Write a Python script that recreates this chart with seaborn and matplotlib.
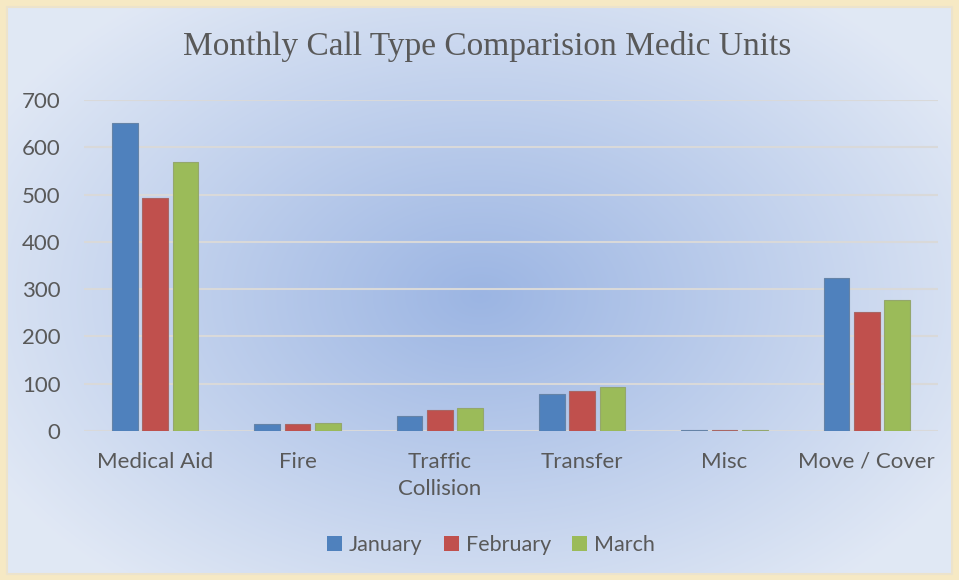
import numpy as np
import pandas as pd
import matplotlib
matplotlib.use("Agg")
import matplotlib.pyplot as plt
import seaborn as sns
from matplotlib.patches import Patch

categories = ["Medical Aid", "Fire", "Traffic\nCollision", "Transfer", "Misc", "Move / Cover"]
months = ["January", "February", "March"]
january = [651, 15, 32, 78, 3, 323]
february = [492, 15, 44, 85, 2, 252]
march = [568, 17, 49, 94, 3, 277]
colors = ["#4F81BD", "#C0504D", "#9BBB59"]
yticks = [0, 100, 200, 300, 400, 500, 600, 700]

df = pd.DataFrame({
    "category": categories * 3,
    "month": [months[0]] * 6 + [months[1]] * 6 + [months[2]] * 6,
    "value": january + february + march,
})

sns.set_theme(style="white")
plt.rcParams["font.family"] = ["Lato", "DejaVu Sans"]
text_color = "#595959"

W, H = 959, 580
fig = plt.figure(figsize=(W / 100, H / 100), dpi=100)
fig.patch.set_facecolor("#f6e9c4")

# background panel with radial gradient
bg = fig.add_axes([0, 0, 1, 1], zorder=0)
bg.set_xlim(0, W)
bg.set_ylim(H, 0)
bg.axis("off")
yy, xx = np.mgrid[0:H, 0:W]
cx, cy = 480, 295
r = np.sqrt(((xx - cx) / 560.0) ** 2 + ((yy - cy) / 380.0) ** 2)
r = np.clip(r, 0, 1)
c_in = np.array([0.61, 0.71, 0.89])
c_out = np.array([0.88, 0.91, 0.96])
img = c_in[None, None, :] * (1 - r[..., None]) + c_out[None, None, :] * r[..., None]
bg.imshow(img, extent=[7, 952, 574, 7], aspect="auto", interpolation="bilinear")
bg.plot([7, 952, 952, 7, 7], [7, 7, 574, 574, 7], color="#ece3cc", lw=1.5)

left, right = 84 / W, 938 / W
bottom, top = (H - 431) / H, (H - 100) / H
ax = fig.add_axes([left, bottom, right - left, top - bottom], zorder=1)
ax.patch.set_alpha(0)

sns.barplot(data=df, x="category", y="value", hue="month", hue_order=months,
            palette=colors, width=0.64, gap=0.15, ax=ax, legend=False,
            saturation=1, edgecolor=None, linewidth=0)
for i, cont in enumerate(ax.containers):
    for p in cont.patches:
        p.set_edgecolor(sns.desaturate(colors[i], 0.6))
        p.set_linewidth(0.8)
        p.set_zorder(3)

ax.set_ylim(0, 700)
ax.set_xlim(-0.5, len(categories) - 0.5)
ax.set_yticks(yticks)
ax.grid(axis="y", color="#d9d9d9", lw=1.5, zorder=0)
ax.set_axisbelow(True)
for s in ax.spines.values():
    s.set_visible(False)
ax.set_xlabel("")
ax.set_ylabel("")
ax.tick_params(axis="both", length=0, labelsize=16, colors=text_color)
ax.tick_params(axis="x", pad=15)
ax.tick_params(axis="y", pad=17)
for lbl in ax.get_xticklabels():
    lbl.set_linespacing(1.45)
for lbl in ax.get_yticklabels():
    lbl.set_horizontalalignment("right")

fig.text(487 / W, 1 - 47 / H, "Monthly Call Type Comparision Medic Units",
         ha="center", va="center", fontsize=24, color=text_color,
         family=["Liberation Serif", "DejaVu Serif"])

handles = [Patch(facecolor=c, edgecolor="none") for c in colors]
fig.legend(handles, months, loc="center", bbox_to_anchor=(491 / W, 1 - 545 / H),
           ncol=3, frameon=False, fontsize=15.5, labelcolor=text_color,
           handlelength=0.7, handleheight=0.7, handletextpad=0.3, columnspacing=1.0)

fig.savefig("out.png", dpi=100, facecolor=fig.get_facecolor())
